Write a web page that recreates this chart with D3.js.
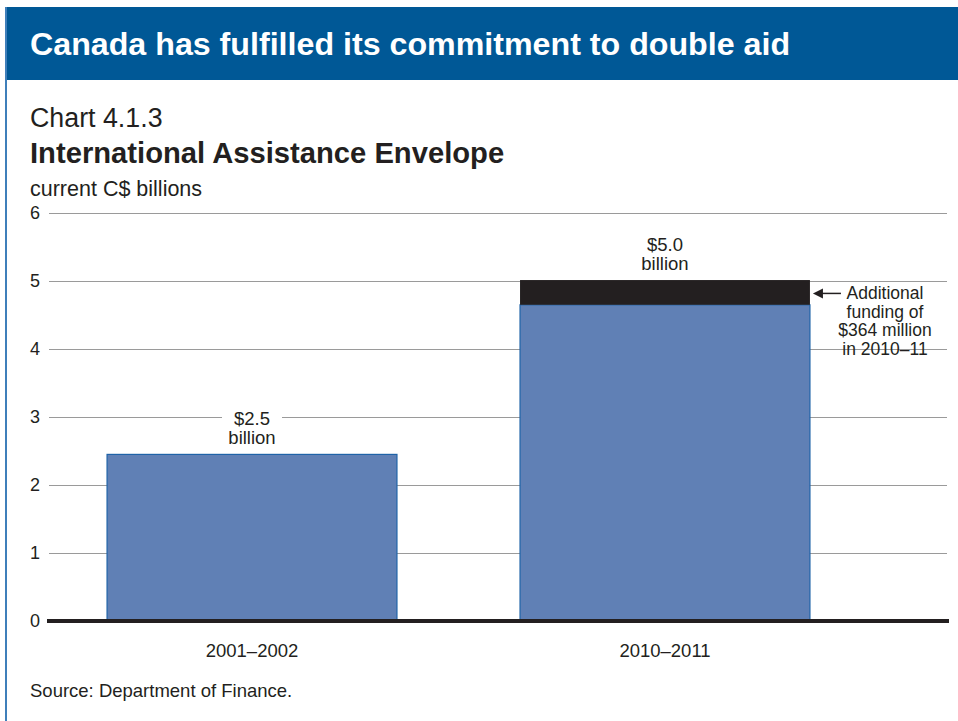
<!DOCTYPE html>
<html><head><meta charset="utf-8">
<script src="https://cdn.jsdelivr.net/npm/d3@7"></script>
<style>
html,body{margin:0;padding:0;background:#fff;}
svg{display:block;font-family:"Liberation Sans",Arial,Helvetica,sans-serif;}
</style></head>
<body><svg id="c" width="958" height="721"></svg>
<script>
const categories = ["2001–2002", "2010–2011"];
const baseValues = [2.45, 4.65];
const additionalValues = [0, 0.364];
const totalLabels = [["$2.5", "billion"], ["$5.0", "billion"]];
const yTicks = [0, 1, 2, 3, 4, 5, 6];
const annotationLines = ["Additional", "funding of", "$364 million", "in 2010–11"];

const svg = d3.select("#c");
const W = 958, H = 721;
const ink = "#231f20";

// frame
svg.append("rect").attr("x", 0).attr("y", 0).attr("width", W).attr("height", H).attr("fill", "#fff");
svg.append("rect").attr("x", 5).attr("y", 7).attr("width", W - 5).attr("height", 73).attr("fill", "#005896");
svg.append("rect").attr("x", 5).attr("y", 7).attr("width", 2).attr("height", H - 7).attr("fill", "#3f7fba");
svg.append("text").attr("x", 30).attr("y", 55).attr("fill", "#fff")
  .attr("font-size", 32.2).attr("font-weight", "bold").text("Canada has fulfilled its commitment to double aid");

svg.append("text").attr("x", 30).attr("y", 127).attr("fill", ink).attr("font-size", 26.8).text("Chart 4.1.3");
svg.append("text").attr("x", 30).attr("y", 163).attr("fill", ink).attr("font-size", 29.2).attr("font-weight", "bold").text("International Assistance Envelope");
svg.append("text").attr("x", 30).attr("y", 196).attr("fill", ink).attr("font-size", 21.5).text("current C$ billions");

const y = d3.scaleLinear().domain([0, 6]).range([621, 213]);
const x = d3.scaleBand().domain(categories).range([48, 869]).paddingInner(0.298).paddingOuter(0.143);
const gridL = 49, gridR = 947;

// grid
const yAxis = d3.axisLeft(y).tickValues(yTicks).tickSize(-(gridR - gridL)).tickFormat(d3.format("d"));
const ga = svg.append("g").attr("transform", `translate(${gridL},0)`).call(yAxis);
ga.select(".domain").remove();
ga.selectAll(".tick line").attr("stroke", "#9a9a9a").attr("stroke-width", 1);
ga.selectAll(".tick text").attr("font-size", 18).attr("fill", ink)
  .attr("font-family", "'Liberation Sans',Arial,sans-serif").attr("x", -9);

// bars
const data = categories.map((c, i) => ({c, base: baseValues[i], add: additionalValues[i], lab: totalLabels[i]}));
svg.append("g").selectAll("rect").data(data).join("rect")
  .attr("x", d => x(d.c)).attr("width", x.bandwidth())
  .attr("y", d => y(d.base)).attr("height", d => y(0) - y(d.base))
  .attr("fill", "#6080b5").attr("stroke", "#1f63a8").attr("stroke-width", 1.2);
svg.append("g").selectAll("rect").data(data.filter(d => d.add > 0)).join("rect")
  .attr("x", d => x(d.c)).attr("width", x.bandwidth())
  .attr("y", d => y(d.base + d.add)).attr("height", d => y(d.base) - y(d.base + d.add))
  .attr("fill", ink);

// zero line
svg.append("line").attr("x1", gridL - 2).attr("x2", gridR + 2).attr("y1", y(0)).attr("y2", y(0))
  .attr("stroke", ink).attr("stroke-width", 4);

// value labels with white backgrounds
data.forEach(d => {
  const cx = x(d.c) + x.bandwidth() / 2;
  const top = y(d.base + d.add);
  const g = svg.append("g");
  g.append("rect").attr("x", cx - 30).attr("y", top - 50).attr("width", 60).attr("height", 44).attr("fill", "#fff");
  g.append("text").attr("x", cx).attr("y", top - 29).attr("text-anchor", "middle").attr("font-size", 18.5).attr("fill", ink).text(d.lab[0]);
  g.append("text").attr("x", cx).attr("y", top - 10).attr("text-anchor", "middle").attr("font-size", 18.5).attr("fill", ink).text(d.lab[1]);
});

// annotation
const d2 = data[1];
const ax = x(d2.c) + x.bandwidth();
const ay = y(d2.base + d2.add / 2) + 1;
const annCx = 885;
svg.append("rect").attr("x", annCx - 51).attr("y", ay - 11).attr("width", 102).attr("height", 65).attr("fill", "#fff");
svg.append("line").attr("x1", ax + 10).attr("x2", ax + 31).attr("y1", ay).attr("y2", ay).attr("stroke", ink).attr("stroke-width", 1.5);
svg.append("path").attr("d", `M${ax + 3},${ay} L${ax + 13},${ay - 5} L${ax + 13},${ay + 5} Z`).attr("fill", ink);
annotationLines.forEach((t, i) => {
  svg.append("text").attr("x", annCx).attr("y", ay + 6 + i * 18.5).attr("text-anchor", "middle")
    .attr("font-size", 17.5).attr("fill", ink).text(t);
});

// x labels
const xa = svg.append("g").attr("transform", `translate(0,${y(0)})`).call(d3.axisBottom(x).tickSize(0).tickPadding(23));
xa.select(".domain").remove();
xa.selectAll("text").attr("font-size", 18.5).attr("fill", ink).attr("font-family", "'Liberation Sans',Arial,sans-serif");

svg.append("text").attr("x", 30).attr("y", 697).attr("font-size", 18.5).attr("fill", ink).text("Source: Department of Finance.");
</script></body></html>
